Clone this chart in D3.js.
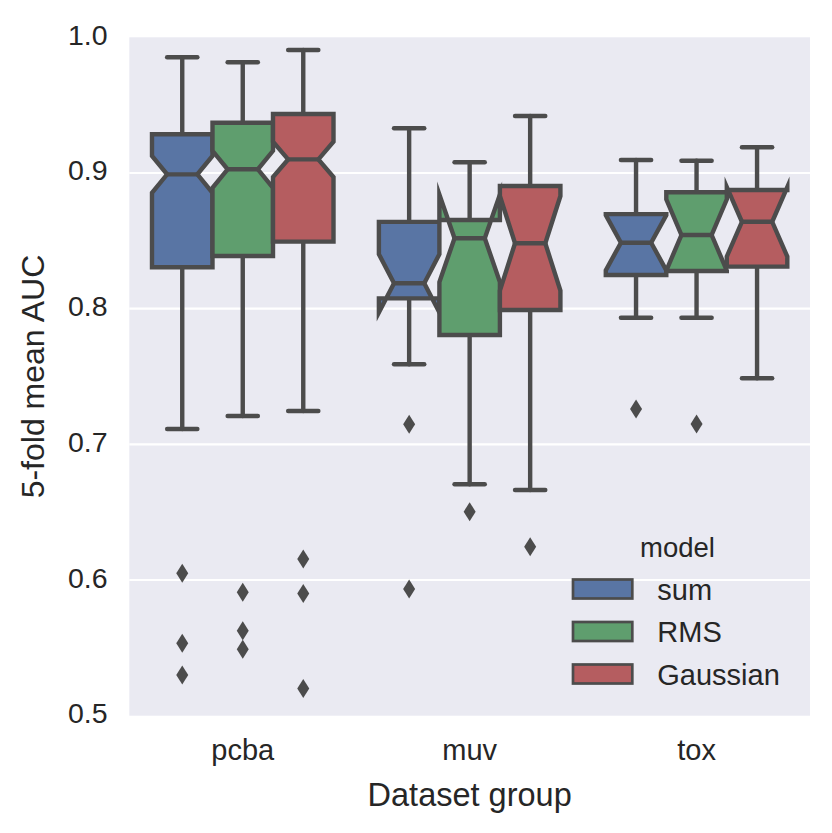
<!DOCTYPE html>
<html>
<head>
<meta charset="utf-8">
<script src="https://cdn.jsdelivr.net/npm/d3@7"></script>
<style>
  html, body { margin: 0; padding: 0; background: #ffffff; }
  svg { display: block; font-family: "Liberation Sans", Arial, sans-serif; }
</style>
</head>
<body>
<svg id="chart" width="832" height="833"></svg>
<script>
// ---- data ----
const categories = ["pcba", "muv", "tox"];
const models = ["sum", "RMS", "Gaussian"];
const nDatasets = [128, 17, 12];           // datasets per group (for notch width)
const yTicks = [0.5, 0.6, 0.7, 0.8, 0.9, 1.0];

const whiskerLow = {
  sum:      [0.7113, 0.759, 0.7933],
  RMS:      [0.7209, 0.6706, 0.7933],
  Gaussian: [0.7246, 0.6663, 0.7487]
};
const q1 = {
  sum:      [0.8305, 0.8076, 0.8248],
  RMS:      [0.8388, 0.7806, 0.8278],
  Gaussian: [0.8494, 0.7990, 0.8310]
};
const median = {
  sum:      [0.8990, 0.8187, 0.8486],
  RMS:      [0.9027, 0.8519, 0.8543],
  Gaussian: [0.9100, 0.8482, 0.8640]
};
const q3 = {
  sum:      [0.9285, 0.8640, 0.8697],
  RMS:      [0.9370, 0.8653, 0.8858],
  Gaussian: [0.9435, 0.8904, 0.8875]
};
const whiskerHigh = {
  sum:      [0.9853, 0.9330, 0.9096],
  RMS:      [0.9816, 0.9079, 0.9090],
  Gaussian: [0.9906, 0.9420, 0.9190]
};
const outliers = {
  sum:      [[0.605, 0.5534, 0.530], [0.7148, 0.5934], [0.726]],
  RMS:      [[0.591, 0.5627, 0.549], [0.6504], [0.715]],
  Gaussian: [[0.6155, 0.590, 0.520], [0.6246], []]
};
const colors = ["#5975A4", "#5F9E6E", "#B55D60"];

// ---- layout ----
const svg = d3.select("#chart");
const plotL = 129.3, plotR = 810, plotT = 37.3, plotB = 715.7;
const gray = "#4c4c4c";
const textColor = "#262626";
const lw = 4.4;

const y = d3.scaleLinear().domain([0.5, 1.0]).range([plotB, plotT]);
const x = d3.scaleBand().domain(categories).range([plotL, plotR]).paddingInner(0).paddingOuter(0);
const bw = x.bandwidth();
const hue = d3.scaleBand().domain(models).range([-0.4 * bw, 0.4 * bw]);
const boxW = hue.bandwidth();
const color = d3.scaleOrdinal().domain(models).range(colors);

// background
svg.append("rect").attr("x", plotL).attr("y", plotT)
  .attr("width", plotR - plotL).attr("height", plotB - plotT).attr("fill", "#EAEAF2");

// grid
svg.append("g").selectAll("line").data(yTicks.filter(t => t > 0.5 && t < 1.0)).join("line")
  .attr("x1", plotL).attr("x2", plotR)
  .attr("y1", d => y(d)).attr("y2", d => y(d))
  .attr("stroke", "#ffffff").attr("stroke-width", 2.2);

// y tick labels
svg.append("g").selectAll("text").data(yTicks).join("text")
  .attr("x", 107.5).attr("y", d => y(d) + 7.5)
  .attr("text-anchor", "end").attr("font-size", 28.5).attr("fill", textColor)
  .text(d => d3.format(".1f")(d));

// x tick labels
svg.append("g").selectAll("text").data(categories).join("text")
  .attr("x", d => x(d) + bw / 2).attr("y", 760)
  .attr("text-anchor", "middle").attr("font-size", 29).attr("fill", textColor)
  .text(d => d);

// axis labels
svg.append("text").attr("x", (plotL + plotR) / 2).attr("y", 805.5)
  .attr("text-anchor", "middle").attr("font-size", 32.5).attr("fill", textColor)
  .text("Dataset group");
svg.append("text").attr("transform", `translate(43.5,${(plotT + plotB) / 2}) rotate(-90)`)
  .attr("text-anchor", "middle").attr("font-size", 32).attr("fill", textColor)
  .text("5-fold mean AUC");

// boxes
const boxes = [];
categories.forEach((c, ci) => {
  models.forEach((m, mi) => {
    const iqr = q3[m][ci] - q1[m][ci];
    const half = 1.57 * iqr / Math.sqrt(nDatasets[ci]);
    boxes.push({
      cat: c, model: m, pos: x(c) + bw / 2 + hue(m) + boxW / 2,
      lo: whiskerLow[m][ci], q1: q1[m][ci], med: median[m][ci], q3: q3[m][ci], hi: whiskerHigh[m][ci],
      nlo: median[m][ci] - half, nhi: median[m][ci] + half,
      out: outliers[m][ci]
    });
  });
});

const g = svg.append("g");
boxes.forEach(b => {
  const bl = b.pos - boxW / 2, br = b.pos + boxW / 2;
  const cl = b.pos - boxW / 4, cr = b.pos + boxW / 4;
  // whiskers
  g.append("line").attr("x1", b.pos).attr("x2", b.pos).attr("y1", y(b.q1)).attr("y2", y(b.lo))
    .attr("stroke", gray).attr("stroke-width", lw).attr("stroke-linecap", "round");
  g.append("line").attr("x1", b.pos).attr("x2", b.pos).attr("y1", y(b.q3)).attr("y2", y(b.hi))
    .attr("stroke", gray).attr("stroke-width", lw).attr("stroke-linecap", "round");
  // caps
  [b.lo, b.hi].forEach(v => {
    g.append("line").attr("x1", cl).attr("x2", cr).attr("y1", y(v)).attr("y2", y(v))
      .attr("stroke", gray).attr("stroke-width", lw).attr("stroke-linecap", "round");
  });
  // notched box (matplotlib vertex order)
  const pts = [
    [bl, b.q1], [br, b.q1], [br, b.nlo], [cr, b.med], [br, b.nhi], [br, b.q3],
    [bl, b.q3], [bl, b.nhi], [cl, b.med], [bl, b.nlo], [bl, b.q1]
  ].map(p => [p[0], y(p[1])]);
  g.append("path").attr("d", d3.line()(pts) + "Z")
    .attr("fill", color(b.model)).attr("stroke", gray).attr("stroke-width", lw)
    .attr("stroke-linejoin", "miter").attr("stroke-miterlimit", 12);
  // median
  g.append("line").attr("x1", cl).attr("x2", cr).attr("y1", y(b.med)).attr("y2", y(b.med))
    .attr("stroke", gray).attr("stroke-width", lw).attr("stroke-linecap", "round");
  // outliers (thin diamonds)
  g.selectAll(null).data(b.out).enter().append("path")
    .attr("d", d => {
      const cx = b.pos, cy = y(d), h = 9.5, w = 6;
      return `M${cx},${cy - h}L${cx + w},${cy}L${cx},${cy + h}L${cx - w},${cy}Z`;
    })
    .attr("fill", gray);
});

// legend
const lg = svg.append("g");
lg.append("text").attr("x", 677.5).attr("y", 557.3).attr("text-anchor", "middle")
  .attr("font-size", 27.5).attr("fill", textColor).text("model");
const legY = d3.scalePoint().domain(models).range([589, 674]);
models.forEach(m => {
  lg.append("rect").attr("x", 573).attr("y", legY(m) - 9.5).attr("width", 59.3).attr("height", 19)
    .attr("fill", color(m)).attr("stroke", gray).attr("stroke-width", 2.7);
  lg.append("text").attr("x", 657.3).attr("y", legY(m) + 10.8)
    .attr("font-size", 29).attr("fill", textColor).text(m);
});
</script>
</body>
</html>
